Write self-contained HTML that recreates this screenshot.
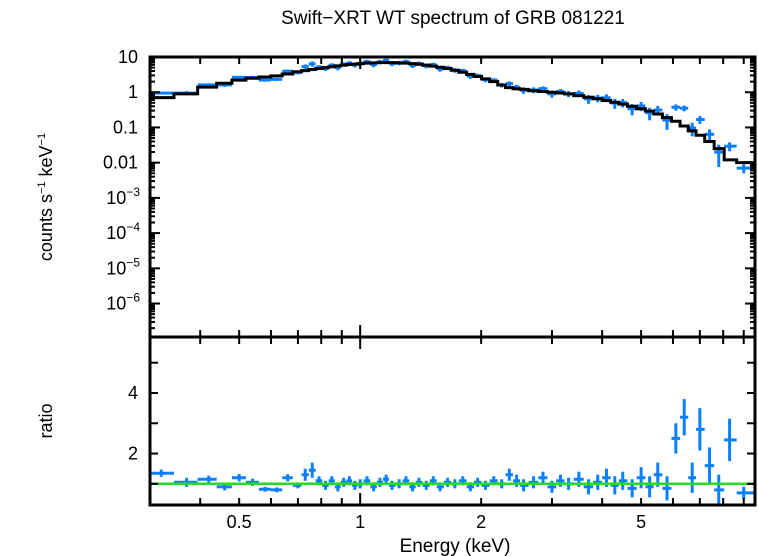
<!DOCTYPE html>
<html><head><meta charset="utf-8"><style>
html,body{margin:0;padding:0;background:#fff;}
svg{display:block;font-family:"Liberation Sans",sans-serif;}
</style></head><body>
<svg id="c" width="758" height="556" viewBox="0 0 758 556">
<text x="453" y="24" font-size="19" text-anchor="middle">Swift−XRT WT spectrum of GRB 081221</text>
<text x="455" y="552" font-size="19" text-anchor="middle">Energy (keV)</text>
<text transform="translate(52,197) rotate(-90)" font-size="18" text-anchor="middle">counts s<tspan font-size="11" dy="-7">−1</tspan><tspan dy="7"> keV</tspan><tspan font-size="11" dy="-7">−1</tspan></text>
<text transform="translate(52,421) rotate(-90)" font-size="18" text-anchor="middle">ratio</text>
<g id="marks"></g>
<g id="axes"></g>
</svg>
<script>
const energies=[0.32,0.37,0.42,0.46,0.5,0.54,0.58,0.62,0.66,0.7,0.73,0.76,0.79,0.82,0.85,0.88,0.91,0.94,0.97,1.0,1.04,1.08,1.12,1.16,1.2,1.25,1.3,1.35,1.4,1.46,1.52,1.58,1.65,1.72,1.8,1.88,1.96,2.05,2.15,2.25,2.35,2.45,2.55,2.7,2.85,3.0,3.15,3.3,3.5,3.7,3.9,4.1,4.3,4.5,4.75,5.0,5.25,5.5,5.8,6.1,6.4,6.7,7.0,7.4,7.8,8.3,9.0];
const modelValues=[0.7,0.9,1.4,1.8,2.2,2.5,2.7,2.9,3.3,3.8,4.1,4.4,4.7,5.0,5.3,5.6,5.9,6.1,6.3,6.5,6.7,6.8,6.9,6.9,6.9,6.8,6.7,6.5,6.2,5.9,5.5,5.1,4.7,4.2,3.7,3.2,2.8,2.4,2.0,1.6,1.35,1.25,1.2,1.1,1.05,1.0,0.95,0.9,0.8,0.72,0.65,0.58,0.52,0.46,0.4,0.34,0.29,0.24,0.19,0.15,0.11,0.08,0.06,0.04,0.025,0.012,0.01];
const ratioValues=[1.35,1.05,1.15,0.9,1.2,1.05,0.82,0.8,1.2,0.95,1.3,1.45,1.1,0.95,1.1,0.9,1.05,1.1,0.95,1.0,1.1,0.9,1.05,1.15,0.95,1.0,1.1,0.9,1.05,0.95,1.1,0.9,1.05,1.0,1.1,0.9,1.05,0.95,1.1,1.0,1.3,1.1,0.95,1.05,1.2,0.9,1.1,1.0,1.15,0.9,1.05,1.2,0.95,1.1,0.85,1.2,0.9,1.3,0.85,2.5,3.2,1.2,2.8,1.6,0.8,2.45,0.7];
const ratioErrors=[0.12,0.15,0.12,0.12,0.12,0.12,0.08,0.08,0.12,0.1,0.2,0.25,0.15,0.15,0.15,0.15,0.15,0.15,0.15,0.15,0.15,0.15,0.15,0.15,0.15,0.15,0.15,0.15,0.15,0.15,0.15,0.15,0.15,0.15,0.15,0.15,0.15,0.15,0.15,0.15,0.2,0.2,0.2,0.2,0.2,0.2,0.2,0.2,0.25,0.25,0.25,0.3,0.3,0.3,0.3,0.35,0.35,0.4,0.4,0.5,0.6,0.5,0.7,0.6,0.5,0.7,0.2];
const xTickLabels=["0.5","1","2","5"];
const xTickValues=[0.5,1,2,5];
const yTopExps=[1,0,-1,-2,-3,-4,-5,-6];
const ratioTickValues=[2,4];

const L=150,R=755,T=57,M=337,B=505;
const xLo=0.3,xHi=9.6;
const X=e=>L+(Math.log10(e)-Math.log10(xLo))/(Math.log10(xHi)-Math.log10(xLo))*(R-L);
const yTopHi=1, yTopLo=-6.95;
const YT=v=>T+(yTopHi-Math.log10(v))/(yTopHi-yTopLo)*(M-T);
const rHi=5.85,rLo=0.3;
const YR=v=>M+(rHi-v)/(rHi-rLo)*(B-M);
const NS="http://www.w3.org/2000/svg";
function mk(tag,attrs,parent){const el=document.createElementNS(NS,tag);for(const k in attrs)el.setAttribute(k,attrs[k]);parent.appendChild(el);return el;}
const marks=document.getElementById('marks'),axes=document.getElementById('axes');
const blue="#0a80ff";
const edges=[xLo];
for(let i=0;i<energies.length-1;i++)edges.push(Math.sqrt(energies[i]*energies[i+1]));
edges.push(xHi);
for(let i=0;i<energies.length;i++){
  const e=energies[i],r=ratioValues[i],er=ratioErrors[i],m=modelValues[i];
  const x1=X(edges[i]),x2=X(edges[i+1]),xc=X(e);
  const c=m*r, ce=m*er;
  const g=mk('g',{},marks);
  
  
  mk('line',{x1:x1,x2:x2,y1:YT(c),y2:YT(c),stroke:blue,'stroke-width':3},g);
  mk('line',{x1:xc,x2:xc,y1:YT(c+ce),y2:YT(Math.max(c-ce,c*0.3)),stroke:blue,'stroke-width':3},g);
  const g2=mk('g',{},marks);
  
  
  mk('line',{x1:x1,x2:x2,y1:YR(r),y2:YR(r),stroke:blue,'stroke-width':3},g2);
  mk('line',{x1:xc,x2:xc,y1:YR(Math.min(r+er,rHi)),y2:YR(Math.max(r-er,rLo)),stroke:blue,'stroke-width':3},g2);
}
let d='';
for(let i=0;i<energies.length;i++){const y=YT(modelValues[i]);d+=(i?'L':'M')+X(edges[i])+','+y+'L'+X(edges[i+1])+','+y;}
const mp=mk('path',{d:d,fill:'none',stroke:'#000','stroke-width':3},marks);


const rl=mk('line',{x1:L,x2:R,y1:YR(1),y2:YR(1),stroke:'#22dd22','stroke-width':2.5},marks);


const f1=mk('rect',{x:L,y:T,width:R-L,height:M-T,fill:'none',stroke:'#000','stroke-width':3},axes);


const f2=mk('rect',{x:L,y:M,width:R-L,height:B-M,fill:'none',stroke:'#000','stroke-width':3},axes);


const xt=[0.4,0.5,0.6,0.7,0.8,0.9,1,2,3,4,5,6,7,8,9];
xt.forEach(v=>{const x=X(v),len=v===1?12:7;
  [T,M,B].forEach(y=>{
    if(y!==T)mk('line',{x1:x,x2:x,y1:y,y2:y-len,stroke:'#000','stroke-width':2},axes);
    if(y!==B)mk('line',{x1:x,x2:x,y1:y,y2:y+len,stroke:'#000','stroke-width':2},axes);
  });});
xTickValues.forEach((v,i)=>{const t=mk('text',{x:X(v),y:528,'font-size':18,'text-anchor':'middle'},axes);t.textContent=xTickLabels[i];
  
  });
for(let p=-7;p<=1;p++){for(let k=1;k<10;k++){const v=k*Math.pow(10,p);if(v>10.01||Math.log10(v)<yTopLo)continue;const y=YT(v),len=k===1?10:5;
  mk('line',{x1:L,x2:L+len,y1:y,y2:y,stroke:'#000','stroke-width':2},axes);
  mk('line',{x1:R,x2:R-len,y1:y,y2:y,stroke:'#000','stroke-width':2},axes);}}
yTopExps.forEach(p=>{const y=YT(Math.pow(10,p))+6;let t;
  if(p>=-2){t=mk('text',{x:138,y:y,'font-size':18,'text-anchor':'end'},axes);t.textContent=Math.pow(10,p).toString();}
  else{t=mk('text',{x:140,y:y,'font-size':18,'text-anchor':'end'},axes);t.innerHTML='10<tspan font-size="12" dy="-8">−'+(-p)+'</tspan>';}
  
  });
[1,2,3,4,5].forEach(v=>{const y=YR(v);mk('line',{x1:L,x2:L+8,y1:y,y2:y,stroke:'#000','stroke-width':2},axes);mk('line',{x1:R,x2:R-8,y1:y,y2:y,stroke:'#000','stroke-width':2},axes);});
ratioTickValues.forEach(v=>{const t=mk('text',{x:138,y:YR(v)+6,'font-size':18,'text-anchor':'end'},axes);t.textContent=v;
  
  });
</script>
</body></html>
